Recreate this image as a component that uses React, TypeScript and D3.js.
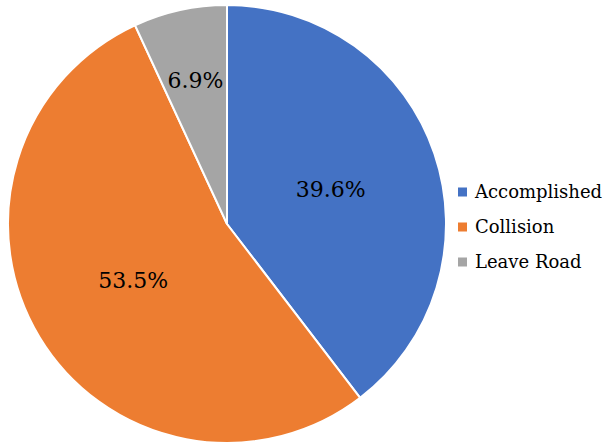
import React from "react";
import * as d3 from "d3";

const categories = ["Accomplished", "Collision", "Leave Road"];
const values = [39.6, 53.5, 6.9];
const colors = ["#4472C4", "#ED7D31", "#A5A5A5"];
const labelRadiusFactor = [0.5, 0.5, 0.67];

export default function App() {
  const width = 611;
  const height = 444;
  const cx = 227;
  const cy = 224;
  const r = 219;
  const pie = d3.pie<number>().sort(null).value((d) => d)(values);
  const arc = d3.arc<d3.PieArcDatum<number>>().innerRadius(0).outerRadius(r);
  const fontStyle = { fontFamily: "'DejaVu Serif', 'Liberation Serif', serif" };
  return (
    <svg width={width} height={height} style={{ position: "absolute", left: 0, top: 0 }}>
      <rect width={width} height={height} fill="#fff" />
      <g transform={`translate(${cx},${cy})`}>
        {pie.map((p, i) => (
          <path key={i} d={arc(p) || ""} fill={colors[i]} stroke="#fff" strokeWidth={2} />
        ))}
        {pie.map((p, i) => {
          const a = (p.startAngle + p.endAngle) / 2;
          const d = r * labelRadiusFactor[i];
          const x = Math.sin(a) * d;
          const y = -Math.cos(a) * d;
          return (
            <text key={i} x={x} y={y} dy="0.35em" textAnchor="middle" style={fontStyle} fontSize={22} fill="#000">
              {values[i].toFixed(1)}%
            </text>
          );
        })}
      </g>
      {categories.map((c, i) => (
        <g key={c} transform={`translate(458,${192 + i * 35})`}>
          <rect x={0} y={-4.5} width={9} height={9} fill={colors[i]} />
          <text x={17} y={0} dy="0.33em" style={fontStyle} fontSize={18} fill="#000">
            {c}
          </text>
        </g>
      ))}
    </svg>
  );
}
